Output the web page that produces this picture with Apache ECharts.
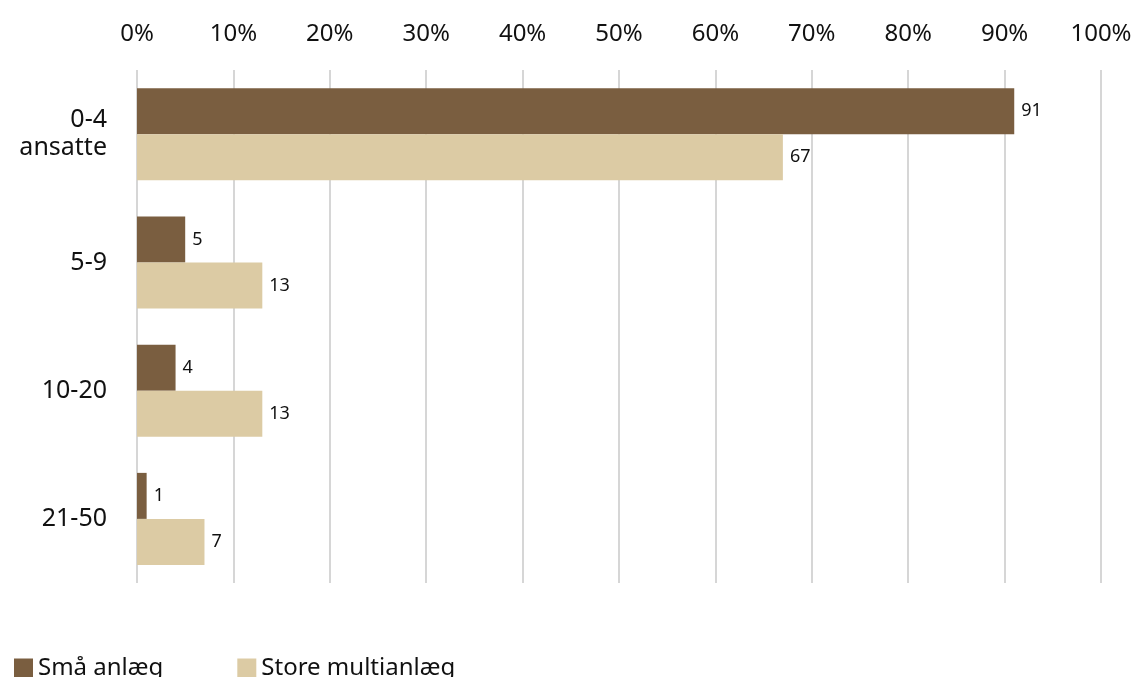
<!DOCTYPE html>
<html>
<head>
<meta charset="utf-8">
<script src="https://cdn.jsdelivr.net/npm/echarts@6/dist/echarts.min.js"></script>
<style>
  html, body { margin: 0; padding: 0; background: #fff; }
  #main { width: 1143px; height: 677px; }
</style>
</head>
<body>
<div id="main"></div>
<script>
// kategorier (antal ansatte)
var categories = ["0-4\nansatte", "5-9", "10-20", "21-50"];
// procent pr. gruppe
var smaaAnlaeg = [91, 5, 4, 1];
var storeMultianlaeg = [67, 13, 13, 7];
var seriesNames = ["Små anlæg", "Store multianlæg"];

var font = "Noto Sans";
var chart = echarts.init(document.getElementById("main"));
chart.setOption({
  animation: false,
  color: ["#7a5e40", "#dccba4"],
  textStyle: { fontFamily: font, color: "#111" },
  grid: {
    left: 137,
    right: 42,
    top: 70,
    bottom: 94
  },
  legend: {
    left: 9,
    bottom: -8,
    icon: "rect",
    itemWidth: 19,
    itemHeight: 19,
    itemGap: 74,
    textStyle: { fontSize: 24, color: "#111", fontFamily: font },
    data: seriesNames
  },
  xAxis: {
    type: "value",
    position: "top",
    min: 0,
    max: 100,
    interval: 10,
    axisLine: { show: false },
    axisTick: { show: false },
    splitLine: { lineStyle: { color: "#c8c8c8", width: 1.5 } },
    axisLabel: {
      formatter: "{value}%",
      fontSize: 24,
      color: "#111",
      margin: 24,
      fontFamily: font
    }
  },
  yAxis: {
    type: "category",
    inverse: true,
    data: categories,
    axisLine: { show: false },
    axisTick: { show: false },
    axisLabel: {
      fontSize: 25,
      color: "#111",
      margin: 30,
      lineHeight: 28,
      align: "right",
      fontFamily: font
    }
  },
  series: [
    {
      name: seriesNames[0],
      type: "bar",
      barWidth: 46,
      barGap: "0%",
      data: smaaAnlaeg,
      label: {
        show: true,
        position: "right",
        distance: 7,
        fontSize: 18,
        color: "#111",
        fontFamily: font
      }
    },
    {
      name: seriesNames[1],
      type: "bar",
      barWidth: 46,
      barGap: "0%",
      data: storeMultianlaeg,
      label: {
        show: true,
        position: "right",
        distance: 7,
        fontSize: 18,
        color: "#111",
        fontFamily: font
      }
    }
  ]
});
</script>
</body>
</html>
